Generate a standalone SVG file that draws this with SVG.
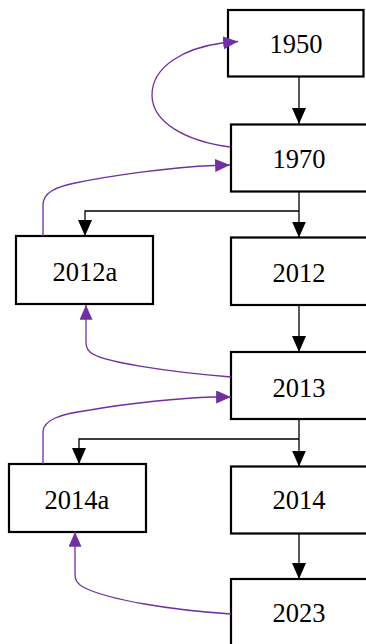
<svg xmlns="http://www.w3.org/2000/svg" width="366" height="644" viewBox="0 0 366 644">
<defs>
<style>
.box{fill:#fff;stroke:#000;stroke-width:2.2}
.lbl{font-family:"Liberation Serif","Times New Roman",serif;font-size:26.5px;fill:#000;text-anchor:middle}
.blk{fill:none;stroke:#000;stroke-width:1.3}
.pur{fill:none;stroke:#7030a0;stroke-width:1.3}
</style>
<marker id="ab" viewBox="0 0 16 14" refX="16" refY="7" markerWidth="16" markerHeight="14" markerUnits="userSpaceOnUse" orient="auto"><path d="M0,0 L16,7 L0,14 z" fill="#000"/></marker>
<marker id="ap" viewBox="0 0 16 14" refX="16" refY="7" markerWidth="15" markerHeight="13" markerUnits="userSpaceOnUse" orient="auto"><path d="M0,0 L16,7 L0,14 z" fill="#7030a0"/></marker>
</defs>
<g id="n1950"><rect class="box" x="228" y="10" width="135.5" height="66.5"/><text class="lbl" x="296" y="53">1950</text></g>
<g id="n1970"><rect class="box" x="231" y="124.5" width="137" height="67"/><text class="lbl" x="299" y="168">1970</text></g>
<g id="n2012a"><rect class="box" x="16" y="236" width="137" height="68"/><text class="lbl" x="85" y="281">2012a</text></g>
<g id="n2012"><rect class="box" x="231" y="237.5" width="137" height="67.5"/><text class="lbl" x="299" y="281.5">2012</text></g>
<g id="n2013"><rect class="box" x="231" y="352" width="137" height="67"/><text class="lbl" x="299" y="396.5">2013</text></g>
<g id="n2014a"><rect class="box" x="9" y="464" width="137" height="68"/><text class="lbl" x="77" y="508.5">2014a</text></g>
<g id="n2014"><rect class="box" x="231" y="466.5" width="137" height="67"/><text class="lbl" x="299" y="509">2014</text></g>
<g id="n2023"><rect class="box" x="231" y="579" width="137" height="70"/><text class="lbl" x="299" y="621.5">2023</text></g>
<g id="connectors">
<path class="blk" d="M299,77 L299,124" marker-end="url(#ab)"/>
<path class="blk" d="M299,192 L299,237.5" marker-end="url(#ab)"/>
<path class="blk" d="M299,211 L85,211 L85,236" marker-end="url(#ab)"/>
<path class="blk" d="M299,305 L299,352" marker-end="url(#ab)"/>
<path class="blk" d="M299,419 L299,466.5" marker-end="url(#ab)"/>
<path class="blk" d="M299,439 L79,439 L79,464" marker-end="url(#ab)"/>
<path class="blk" d="M299,533.5 L299,579" marker-end="url(#ab)"/>
<path class="pur" d="M230,147 C185,141 152,122 152,95 C152,66 185,48 222,43 L238,41.5" marker-end="url(#ap)"/>
<path class="pur" d="M43,236 L43,205 C43,193 55,187 75,183 C110,176 170,167 214,165.5 L230,165" marker-end="url(#ap)"/>
<path class="pur" d="M231,377 C170,372 100,362 90,352 C86,348 86,345 86,340 L86,305" marker-end="url(#ap)"/>
<path class="pur" d="M43,464 L43,432 C43,420 60,414 90,410 C130,403 180,398 213,397 L231,397" marker-end="url(#ap)"/>
<path class="pur" d="M231,614 C170,610 110,600 85,588 C77,584 75,580 75,574 L75,532" marker-end="url(#ap)"/>
</g>
</svg>
